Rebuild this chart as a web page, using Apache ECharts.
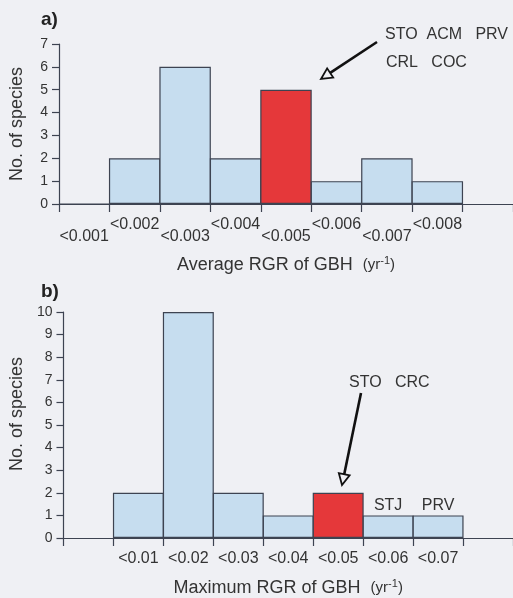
<!DOCTYPE html>
<html>
<head>
<meta charset="utf-8">
<script src="https://cdn.jsdelivr.net/npm/echarts@6/dist/echarts.min.js"></script>
<style>
  html, body { margin: 0; padding: 0; background: #eff0f4; }
  #container-RGRChart { width: 513px; height: 598px; }
</style>
</head>
<body>
<div id="container-RGRChart"></div>
<script>
// a) average RGR of GBH
const aCategories = ['<0.001', '<0.002', '<0.003', '<0.004', '<0.005', '<0.006', '<0.007', '<0.008', ''];
const aCounts = [0, 2, 6, 2, 5, 1, 2, 1];
const aHighlight = '<0.005';
const aYMax = 7;

// b) maximum RGR of GBH
const bCategories = ['', '<0.01', '<0.02', '<0.03', '<0.04', '<0.05', '<0.06', '<0.07', ''];
const bCounts = ['-', 2, 10, 2, 1, 2, 1, 1];
const bHighlight = '<0.05';
const bSpecies = ['', '', '', '', '', '', 'STJ', 'PRV'];
const bYMax = 10;

const BLUE = '#c6ddef';
const RED = '#e5383a';
const EDGE = '#3d4351';
const INK = '#333';
const FONT = '"Liberation Sans", Arial, sans-serif';

function barData(cats, counts, highlight, species) {
  return counts.map((v, i) => {
    let item = {
      value: v,
      itemStyle: { color: cats[i] === highlight ? RED : BLUE }
    };
    if (species && species[i]) {
      item.label = { show: true, position: 'top', distance: 2, formatter: species[i] };
    }
    return item;
  });
}

function xAxisFor(gridIndex, cats, name, stagger, nameGap) {
  return {
    type: 'category',
    gridIndex: gridIndex,
    data: cats,
    boundaryGap: true,
    axisLine: { lineStyle: { color: EDGE, width: 1.2 } },
    axisTick: { show: true, length: 8, lineStyle: { color: EDGE, width: 1.2 } },
    axisLabel: {
      interval: 0,
      color: INK,
      fontFamily: FONT,
      fontSize: 16,
      margin: stagger ? 15 : 13,
      lineHeight: stagger ? 12 : 16,
      formatter: function (v, i) {
        return stagger && i % 2 === 0 ? '\n' + v : v;
      }
    },
    name: name,
    nameLocation: 'middle',
    nameGap: nameGap,
    nameTextStyle: {
      color: INK,
      fontFamily: FONT,
      rich: {
        m: { fontSize: 18, fontFamily: FONT, color: INK },
        u: { fontSize: 15, fontFamily: FONT, color: INK },
        s: { fontSize: 11, fontFamily: FONT, color: INK, verticalAlign: 'top', padding: [0, 0, 9, 0] }
      }
    }
  };
}

function yAxisFor(gridIndex, max, nameGap, shift) {
  return {
    type: 'value',
    gridIndex: gridIndex,
    min: 0,
    max: max,
    interval: 1,
    splitLine: { show: false },
    axisLine: { show: true, lineStyle: { color: EDGE, width: 1.2 } },
    axisTick: { show: true, length: 7, lineStyle: { color: EDGE, width: 1.2 } },
    axisLabel: { color: INK, fontFamily: FONT, fontSize: 14, margin: 11 },
    name: 'No. of species',
    nameLocation: 'middle',
    nameGap: nameGap,
    nameTextStyle: { color: INK, fontFamily: FONT, fontSize: 18, padding: [0, 0, 0, shift] }
  };
}

function arrow(x1, y1, x2, y2, head) {
  // shaft + open triangular head, tip at (x2, y2)
  let dx = x2 - x1, dy = y2 - y1;
  let len = Math.sqrt(dx * dx + dy * dy);
  let ux = dx / len, uy = dy / len;
  let bx = x2 - ux * head, by = y2 - uy * head;
  let px = -uy * head * 0.5, py = ux * head * 0.5;
  return [
    {
      type: 'polyline',
      shape: { points: [[x1, y1], [bx, by]] },
      style: { stroke: '#111', lineWidth: 2.6, fill: null }
    },
    {
      type: 'polygon',
      shape: { points: [[x2, y2], [bx + px, by + py], [bx - px, by - py]] },
      style: { stroke: '#111', lineWidth: 1.8, fill: '#eff0f4' }
    }
  ];
}

function note(x, y, text, font) {
  return {
    type: 'text',
    x: x,
    y: y,
    style: {
      text: text,
      fill: font ? '#222' : INK,
      font: font || ('16px ' + FONT),
      textVerticalAlign: 'middle'
    }
  };
}

let chartDom = document.getElementById('container-RGRChart');
let myChart = echarts.init(chartDom, null, { renderer: 'canvas' });
let option;
option = {
  backgroundColor: '#eff0f4',
  animation: false,
  grid: [
    { left: 59, top: 44, width: 456, height: 160 },
    { left: 60, top: 312, width: 456, height: 226.7 }
  ],
  xAxis: [
    xAxisFor(0, aCategories, '{m|Average RGR of GBH}   {u|(yr}{s|-1}{u|)}', true, 51),
    xAxisFor(1, bCategories, '{m|Maximum RGR of GBH}   {u|(yr}{s|-1}{u|)}', false, 40)
  ],
  yAxis: [
    yAxisFor(0, aYMax, 33, 0),
    yAxisFor(1, bYMax, 34, 22)
  ],
  series: [
    {
      type: 'bar',
      xAxisIndex: 0,
      yAxisIndex: 0,
      barWidth: '102%',
      data: barData(aCategories, aCounts, aHighlight),
      itemStyle: { borderColor: EDGE, borderWidth: 1.2 }
    },
    {
      type: 'bar',
      xAxisIndex: 1,
      yAxisIndex: 1,
      barWidth: '102%',
      data: barData(bCategories, bCounts, bHighlight, bSpecies),
      itemStyle: { borderColor: EDGE, borderWidth: 1.2 },
      label: { color: INK, fontFamily: FONT, fontSize: 16 }
    }
  ],
  graphic: [
    note(41, 20, 'a)', 'bold 19px ' + FONT),
    note(41, 292, 'b)', 'bold 19px ' + FONT),
    note(385, 35, 'STO  ACM   PRV'),
    note(386, 63, 'CRL   COC'),
    note(349, 383, 'STO   CRC')
  ].concat(arrow(377, 42, 321, 79, 11)).concat(arrow(361, 393, 342, 485, 11))
};

option && myChart.setOption(option);
</script>
</body>
</html>
